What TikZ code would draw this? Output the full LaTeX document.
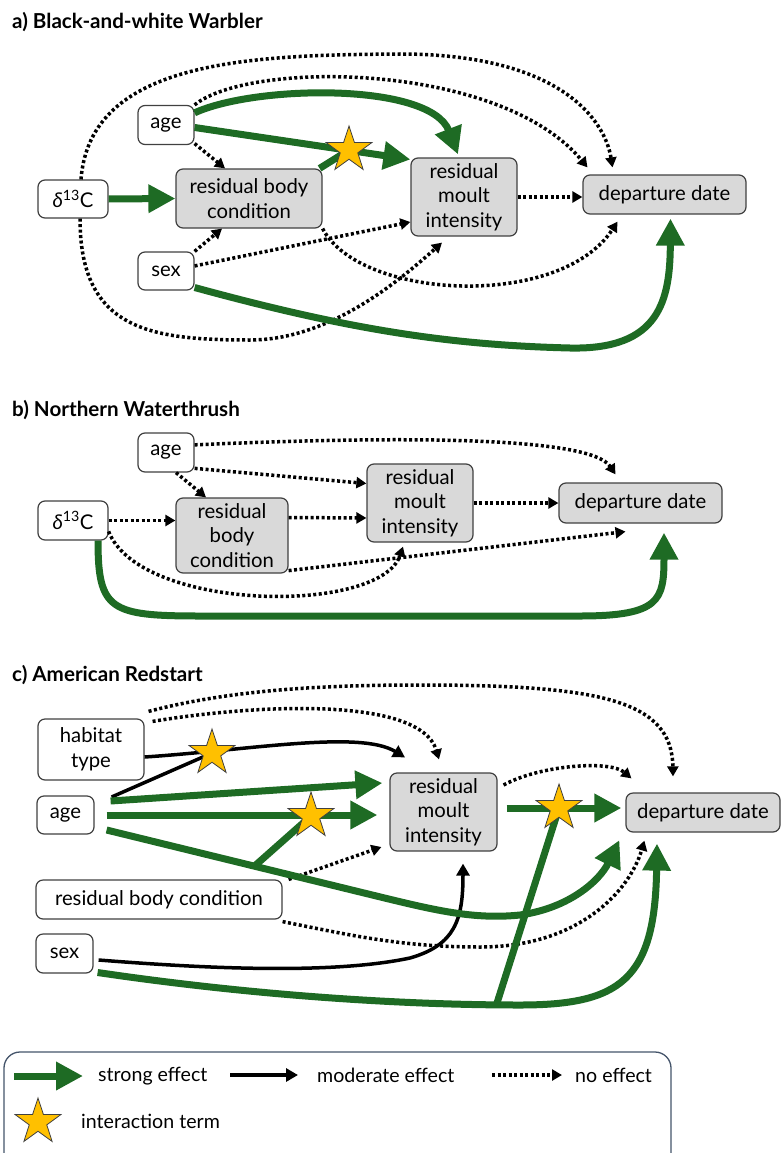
\documentclass[tikz,border=0pt]{standalone}
\usepackage{fontspec}
\setmainfont{Lato}
\usetikzlibrary{arrows.meta,shapes.geometric}
\definecolor{strongGreen}{RGB}{30,107,36}
\definecolor{boxGray}{RGB}{217,217,217}
\definecolor{starGold}{RGB}{255,192,0}
\definecolor{edgeGray}{RGB}{64,64,64}
\definecolor{legendBlue}{RGB}{68,84,106}

\begin{document}
\begin{tikzpicture}[x=1pt,y=-1pt,
  box/.style={draw=edgeGray,line width=1.2pt,rounded corners=7pt,fill=white,align=center,inner sep=0pt,font=\fontsize{20.3}{24.5}\selectfont},
  gbox/.style={box,fill=boxGray},
  title/.style={anchor=west,inner sep=0pt,font=\fontsize{20.6}{24}\selectfont\bfseries},
  lbl/.style={anchor=west,inner sep=0pt,font=\fontsize{19.6}{24}\selectfont},
  strong/.style={draw=strongGreen,line width=7pt,-{Triangle[length=27pt,width=27pt]}},
  gline/.style={draw=strongGreen,line width=7pt},
  moderate/.style={draw=black,line width=3.5pt,-{Triangle[length=12pt,width=13pt]}},
  mline/.style={draw=black,line width=3.5pt},
  noeff/.style={draw=black,line width=3.5pt,dash pattern=on 3pt off 2.5pt,-{Triangle[length=10pt,width=11pt]}},
  istar/.style={star,star points=5,star point ratio=2.6,inner sep=0pt,minimum size=48pt,fill=starGold,draw=edgeGray,line width=0.8pt}]
\useasboundingbox (0,0) rectangle (781,1153);

\node[title] (tA) at (12,22) {a) Black-and-white Warbler};
\node[box,minimum width=70pt,minimum height=38pt] (aC) at (73,199) {\textit{δ}\textsuperscript{13}C};
\node[box,minimum width=56pt,minimum height=39pt] (aAge) at (166,125) {age};
\node[box,minimum width=56pt,minimum height=38pt] (aSex) at (166,271) {sex};
\node[gbox,minimum width=146pt,minimum height=59pt] (aRbc) at (249,198.5) {residual body\\condition};
\node[gbox,minimum width=106pt,minimum height=78pt] (aRmi) at (464,197) {residual\\moult\\intensity};
\node[gbox,minimum width=163pt,minimum height=39pt] (aDep) at (664.5,194.5) {departure date};
\coordinate (aX) at (349,150);

\draw[noeff] ([xshift=8]aC.north) .. controls (90,60) and (250,55) .. (400,54) .. controls (560,54) and (605,120) .. ([xshift=-52,yshift=7]aDep.north);
\draw[noeff] (aAge.north east) .. controls (250,60) and (500,62) .. ([xshift=-77,yshift=7]aDep.north);
\draw[noeff] ([xshift=7]aC.south) .. controls (80,330) and (150,340) .. (250,340) .. controls (330,340) and (400,280) .. ([xshift=-22,yshift=-6]aRmi.south);
\draw[noeff] (aRbc.south east) .. controls (360,300) and (560,310) .. ([xshift=-47,yshift=-7]aDep.south);
\draw[noeff] (aSex.10) -- (aRmi.205);
\draw[noeff] (aAge.-33) -- ([xshift=-24]aRbc.north);
\draw[noeff] (aSex.north east) -- ([xshift=-27]aRbc.south);
\draw[noeff] (aRmi.east) -- (aRmi.east -| aDep.west);
\draw[strong] (aC.east) -- (aRbc.west);
\draw[strong] (aAge.23) .. controls (255,85) and (430,82) .. ([xshift=-6,yshift=3]aRmi.north);
\draw[gline] ([xshift=-3]aRbc.north east) -- (aX);
\draw[strong] (aAge.-5) -- (aRmi.145);
\draw[strong] (aSex.-30) .. controls (350,330) and (450,345) .. (570,348) .. controls (660,350) and (670,300) .. ([xshift=6,yshift=-4]aDep.south);
\node[istar] (aStar) at (aX) {};

\node[title] (tB) at (12,410) {b) Northern Waterthrush};
\node[box,minimum width=56pt,minimum height=39pt] (bAge) at (166,452.5) {age};
\node[box,minimum width=70pt,minimum height=39pt] (bC) at (73,520.5) {\textit{δ}\textsuperscript{13}C};
\node[gbox,minimum width=112pt,minimum height=75pt] (bRbc) at (232,535.5) {residual\\body\\condition};
\node[gbox,minimum width=106pt,minimum height=78pt] (bRmi) at (420,503) {residual\\moult\\intensity};
\node[gbox,minimum width=163pt,minimum height=40pt] (bDep) at (640.5,503) {departure date};

\draw[noeff] (bAge.15) .. controls (400,436) and (590,436) .. ([xshift=-25,yshift=8]bDep.north);
\draw[noeff] (bAge.-29) -- (bRmi.160);
\draw[noeff] ([xshift=10]bAge.south) -- ([xshift=-26]bRbc.north);
\draw[noeff] (bC.east) -- (bC.east -| bRbc.west);
\draw[noeff] ([yshift=18]bRbc.east) -- ([yshift=-15]bRmi.west);
\draw[noeff] (bRmi.east) -- (bDep.west);
\draw[noeff] ([yshift=3]bRbc.south east) -- ([xshift=-15,yshift=-8]bDep.south);
\draw[noeff] (bC.-17) .. controls (140,612) and (380,615) .. ([xshift=-17,yshift=-4]bRmi.south);
\draw[strong] ([xshift=25]bC.south) .. controls (98,610) and (110,616) .. (200,616) -- (580,616) .. controls (660,616) and (664,600) .. ([xshift=23.5,yshift=-9]bDep.south);

\node[title] (tC) at (12,675) {c) American Redstart};
\node[box,minimum width=106pt,minimum height=61pt] (cHab) at (91,749.5) {habitat\\type};
\node[box,minimum width=57pt,minimum height=38pt] (cAge) at (65.5,815) {age};
\node[box,minimum width=246pt,minimum height=39pt] (cRbc) at (159,899.5) {residual body condition};
\node[box,minimum width=57pt,minimum height=39pt] (cSex) at (64.5,953.5) {sex};
\node[gbox,minimum width=107pt,minimum height=78pt] (cRmi) at (443.5,812) {residual\\moult\\intensity};
\node[gbox,minimum width=154pt,minimum height=39pt] (cDep) at (703,812.5) {departure date};
\coordinate (cX1) at (212,753);
\coordinate (cX2) at (311,816);
\coordinate (cX3) at (559,808);
\coordinate (cJ) at (497,1003);

\draw[noeff] ([xshift=4,yshift=7]cHab.north east) .. controls (230,690) and (320,685) .. (420,685) .. controls (600,685) and (672,700) .. ([xshift=-30,yshift=16]cDep.north);
\draw[noeff] ([xshift=8,yshift=-3]cHab.north east) .. controls (250,705) and (420,695) .. ([xshift=-4.5,yshift=13]cRmi.north);
\draw[noeff] ([xshift=6]cRbc.north east) -- ([xshift=-8,yshift=-35]cRmi.west);
\draw[noeff] ([yshift=-2]cRbc.south east) .. controls (350,935) and (400,947) .. (480,947) .. controls (580,947) and (630,890) .. ([xshift=19,yshift=-8]cDep.south west);
\draw[noeff] ([xshift=6,yshift=27]cRmi.east) .. controls (540,765) and (610,760) .. ([xshift=6,yshift=14]cDep.north west);
\draw[moderate] ([yshift=-7.5]cHab.east) .. controls (250,750) and (360,730) .. ([xshift=-38.5,yshift=15]cRmi.north);
\draw[mline] ([xshift=17,yshift=18]cAge.east) -- (cX1);
\draw[moderate] ([xshift=5,yshift=-6.5]cSex.east) .. controls (200,968) and (330,975) .. (410,958) .. controls (455,945) and (463,920) .. ([xshift=19.5,yshift=-12]cRmi.south);
\draw[strong] ([xshift=16,yshift=14]cAge.east) -- ([xshift=-7,yshift=29]cRmi.west);
\draw[strong] ([xshift=12]cAge.east) -- ([xshift=-12,yshift=-3]cRmi.west);
\draw[gline] ([xshift=94,yshift=12]cRbc.north) -- (cX2);
\draw[strong] ([xshift=12,yshift=-15]cAge.east) -- (360,892) .. controls (430,909) and (470,920) .. (520,915) .. controls (570,908) and (600,880) .. ([xshift=-6,yshift=-7.5]cDep.south west);
\draw[strong] ([xshift=4,yshift=-19]cSex.east) .. controls (250,995) and (400,1005) .. (520,1005) .. controls (620,1005) and (655,980) .. ([xshift=-46,yshift=-11]cDep.south);
\draw[gline] (cJ) -- (cX3);
\draw[strong] ([xshift=9,yshift=4]cRmi.east) -- ([xshift=-4,yshift=4.5]cDep.west);
\node[istar] (cStar1) at (cX1) {};
\node[istar] (cStar2) at (cX2) {};
\node[istar] (cStar3) at (cX3) {};

\draw[legendBlue,line width=1.3pt,rounded corners=16pt] (4,1052) rectangle (671,1180);
\coordinate (lgS1) at (14,1076);
\coordinate (lgS2) at (83,1076);
\coordinate (lgM1) at (230,1075);
\coordinate (lgM2) at (298,1075);
\coordinate (lgN1) at (492,1075);
\coordinate (lgN2) at (562,1075);
\draw[strong] (lgS1) -- (lgS2);
\draw[moderate] (lgM1) -- (lgM2);
\draw[noeff] (lgN1) -- (lgN2);
\node[lbl] (lgStrong) at (98,1076) {strong effect};
\node[lbl] (lgMod) at (317,1075) {moderate effect};
\node[lbl] (lgNo) at (575,1075) {no effect};
\node[istar] (lgStar) at (38,1122) {};
\node[lbl] (lgInt) at (81,1121) {interaction term};
\end{tikzpicture}
\end{document}
